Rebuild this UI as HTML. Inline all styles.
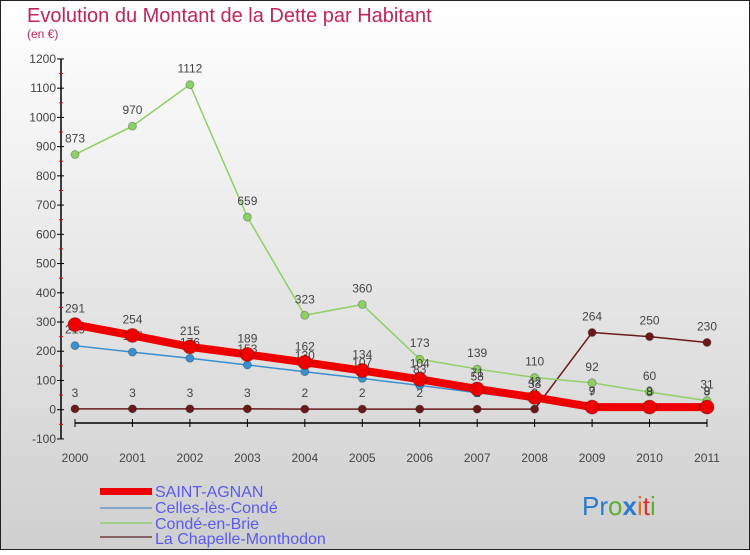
<!DOCTYPE html>
<html><head><meta charset="utf-8"><style>
body{margin:0;width:750px;height:550px;overflow:hidden;font-family:"Liberation Sans",sans-serif}
</style></head><body>
<svg width="750" height="550" viewBox="0 0 750 550" xmlns="http://www.w3.org/2000/svg">
<defs><linearGradient id="bg" x1="0" y1="0" x2="0" y2="1"><stop offset="0" stop-color="#ffffff"/><stop offset="1" stop-color="#cfcfcf"/></linearGradient></defs>
<rect x="0.5" y="0.5" width="749" height="549" fill="url(#bg)" stroke="#222"/>
<text x="27" y="22" font-size="20" fill="#c0245a">Evolution du Montant de la Dette par Habitant</text>
<text x="27" y="38" font-size="12" fill="#c0245a">(en €)</text>
<g id="axes"></g><g id="series"></g>
<g>
<rect x="100" y="488" width="52" height="7" fill="#e00"/>
<text x="155" y="497" font-size="16" fill="#5a5aee">SAINT-AGNAN</text>
<line x1="100" y1="508" x2="152" y2="508" stroke="#7fa8cc" stroke-width="2"/>
<text x="155" y="513" font-size="16" fill="#5a5aee">Celles-lès-Condé</text>
<line x1="100" y1="523" x2="152" y2="523" stroke="#9fd08a" stroke-width="2"/>
<text x="155" y="529" font-size="16" fill="#5a5aee">Condé-en-Brie</text>
<line x1="100" y1="537" x2="152" y2="537" stroke="#8a6464" stroke-width="2"/>
<text x="155" y="544" font-size="16" fill="#5a5aee">La Chapelle-Monthodon</text>
</g>
<text x="582" y="515" font-size="26"><tspan fill="#2a7bd0">Pr</tspan><tspan fill="#5bb030">o</tspan><tspan fill="#2a7bd0" font-weight="bold">x</tspan><tspan fill="#e07020">i</tspan><tspan fill="#e03030">t</tspan><tspan fill="#5bb030">i</tspan></text>
</svg>
<script>
const years=["2000","2001","2002","2003","2004","2005","2006","2007","2008","2009","2010","2011"];
const yTicks=[-100,0,100,200,300,400,500,600,700,800,900,1000,1100,1200];
const saintAgnan=[291,254,215,189,162,134,104,71,42,9,9,9];
const celles=[219,197,176,153,130,107,83,58,33,7,8,8];
const conde=[873,970,1112,659,323,360,173,139,110,92,60,31];
const chapelle=[3,3,3,3,2,2,2,2,2,264,250,230];
const NS="http://www.w3.org/2000/svg";
const xS=i=>75+i*(707-75)/11;
const yS=v=>409.7-v*0.2923;
function mk(tag,attrs,parent){const e=document.createElementNS(NS,tag);for(const k in attrs)e.setAttribute(k,attrs[k]);parent.appendChild(e);return e;}
const ax=document.getElementById('axes');
let e=mk('line',{x1:61,y1:yS(1200),x2:61,y2:yS(-100),stroke:'#000','stroke-width':1.5},ax);


yTicks.forEach(t=>{
 mk('line',{x1:57,y1:yS(t),x2:64,y2:yS(t),stroke:'#000'},ax);
 mk('line',{x1:59,y1:yS(t+50),x2:63,y2:yS(t+50),stroke:t<1200?'#e00':'none'},ax);
 const tx=mk('text',{x:56,y:yS(t)+4,'font-size':12,fill:'#444','text-anchor':'end'},ax);tx.textContent=t;
 
 
});
e=mk('line',{x1:xS(0),y1:423,x2:xS(11),y2:423,stroke:'#000','stroke-width':1.5},ax);


years.forEach((y,i)=>{
 mk('line',{x1:xS(i),y1:419,x2:xS(i),y2:427,stroke:'#000'},ax);
 const tx=mk('text',{x:xS(i),y:462,'font-size':12,fill:'#444','text-anchor':'middle'},ax);tx.textContent=y;
 
 
});
const sg=document.getElementById('series');
function series(vals,color,w,r,name){
 const g=mk('g',{},sg);
 
 
 mk('polyline',{points:vals.map((v,i)=>xS(i)+','+yS(v)).join(' '),fill:'none',stroke:color,'stroke-width':w,'stroke-linejoin':'round'},g);
 vals.forEach((v,i)=>{
  const c=mk('circle',{cx:xS(i),cy:yS(v),r:r,fill:color,stroke:'rgba(0,0,0,0.25)'},g);
  
  
  const t=mk('text',{x:xS(i),y:yS(v)-12,'font-size':12,fill:'#444','text-anchor':'middle'},g);t.textContent=v;
  
  
 });
}
series(chapelle,'#6b1a1a',1.5,4,'series-la-chapelle');
series(conde,'#8fd066',1.5,4,'series-conde-en-brie');
series(celles,'#3a8fd0',1.5,4,'series-celles-les-conde');
series(saintAgnan,'#ee0000',8,7,'series-saint-agnan');
</script>
</body></html>
